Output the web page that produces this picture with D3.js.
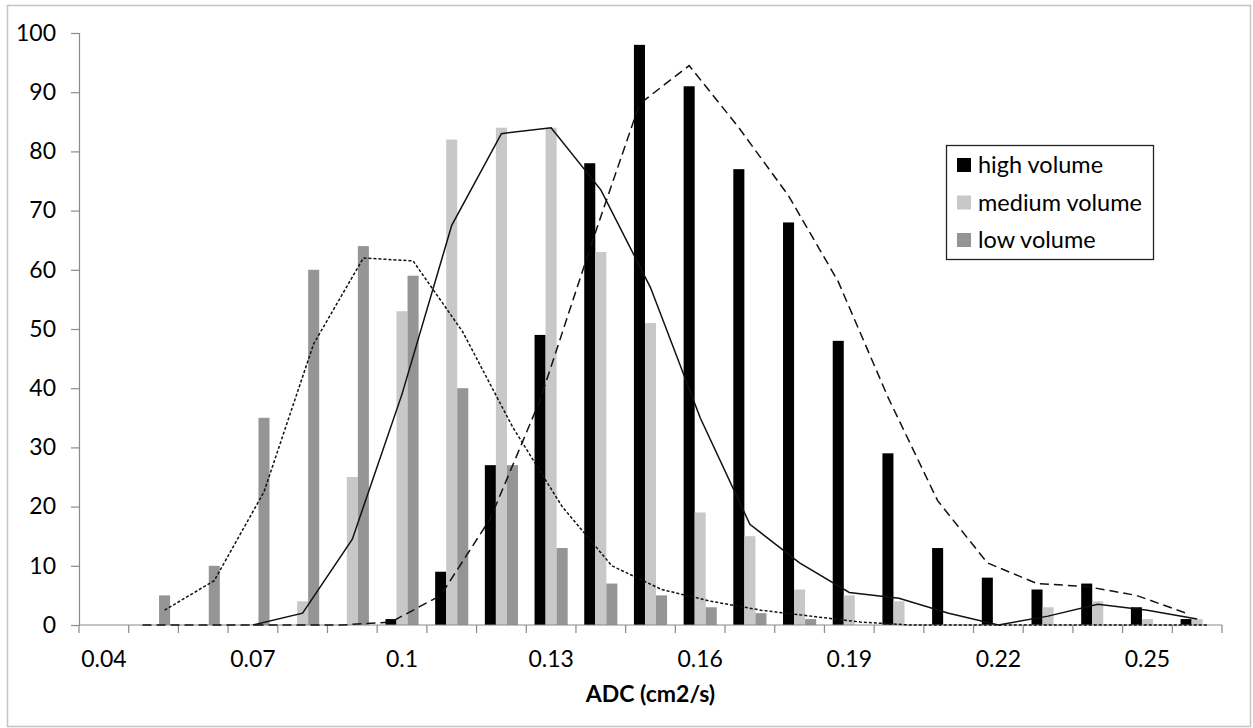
<!DOCTYPE html>
<html>
<head>
<meta charset="utf-8">
<script src="https://cdn.jsdelivr.net/npm/d3@7"></script>
<style>
  html, body { margin: 0; padding: 0; background: #fff; }
  svg { display: block; }
  text { font-family: Lato, "Open Sans", sans-serif; fill: #000; }
</style>
</head>
<body>
<svg id="chart" width="1253" height="728"></svg>
<script>
// ---- data ----
const categories = ["0.04","0.05","0.06","0.07","0.08","0.09","0.1","0.11","0.12","0.13","0.14","0.15","0.16","0.17","0.18","0.19","0.2","0.21","0.22","0.23","0.24","0.25","0.26"];
const tickLabels = ["0.04","0.07","0.1","0.13","0.16","0.19","0.22","0.25"];
const seriesNames = ["high volume","medium volume","low volume"];
const highVolume   = [0,0,0,0,0,0,1,9,27,49,78,98,91,77,68,48,29,13,8,6,7,3,1];
const mediumVolume = [0,0,0,0,4,25,53,82,84,84,63,51,19,15,6,5,4,0,0,3,4,1,1];
const lowVolume    = [0,5,10,35,60,64,59,40,27,13,7,5,3,2,1,0,0,0,0,0,0,0,0];
// trend lines (2-period moving average lines as drawn in the picture)
const highTrend    = [null,0,0,0,0,0,0.5,5,18,38,63.5,88,94.5,84,72.5,58,38.5,21,10.5,7,6.5,5,2];
const mediumTrend  = [null,null,null,0,2,14.5,39,67.5,83,84,73.5,57,35,17,10.5,5.5,4.5,2,0,1.5,3.5,2.5,1];
const lowTrend     = [null,2.5,7.5,22.5,47.5,62,61.5,49.5,33.5,20,10,6,4,2.5,1.5,0.5,0,0,0,0,0,0,0];
const yTicks = [0,10,20,30,40,50,60,70,80,90,100];
const xTitle = "ADC (cm2/s)";

const seriesColors = ["#000000","#c8c8c8","#959595"];
const trendDash = ["9,5", null, "3,2"];

// ---- layout ----
const svg = d3.select("#chart");
const pLeft = 79, pRight = 1222, pTop = 33, pBottom = 625;

svg.append("rect").attr("x", 7.5).attr("y", 5.5).attr("width", 1243).attr("height", 721)
  .attr("fill", "#fff").attr("stroke", "#c4c4c4").attr("stroke-width", 1.5);

const x = d3.scaleBand().domain(categories).range([pLeft, pRight]).paddingInner(0).paddingOuter(0);
const bw = x.bandwidth();
const barW = bw / 4.5;
const xs = d3.scaleBand().domain(seriesNames).range([(bw - 3 * barW) / 2, (bw + 3 * barW) / 2]);
const y = d3.scaleLinear().domain([0, 100]).range([pBottom, pTop]);

const data = [highVolume, mediumVolume, lowVolume];
const trends = [highTrend, mediumTrend, lowTrend];

// y axis
const yAxis = d3.axisLeft(y).tickValues(yTicks).tickSize(8).tickPadding(15);
const gy = svg.append("g").attr("transform", `translate(${pLeft},0)`).call(yAxis);
gy.select(".domain").attr("stroke", "#8a8a8a").attr("stroke-width", 1.2);
gy.selectAll(".tick line").attr("stroke", "#8a8a8a").attr("stroke-width", 1.2);
gy.selectAll(".tick text").attr("font-size", 23).attr("font-family", "Lato, sans-serif").attr("fill", "#000");

// bars
seriesNames.forEach((name, si) => {
  svg.append("g").selectAll("rect")
    .data(categories.map((c, i) => ({ c, v: data[si][i] })))
    .join("rect")
    .attr("x", d => x(d.c) + xs(name))
    .attr("y", d => y(d.v))
    .attr("width", xs.bandwidth())
    .attr("height", d => y(0) - y(d.v))
    .attr("fill", seriesColors[si]);
});

// x axis
const xAxis = d3.axisBottom(x).tickSize(0).tickPadding(0).tickFormat(d => tickLabels.includes(d) ? d : "");
const gx = svg.append("g").attr("transform", `translate(0,${pBottom})`).call(xAxis);
gx.select(".domain").remove();
gx.append("line").attr("x1", pLeft).attr("x2", pRight).attr("y1", 0).attr("y2", 0)
  .attr("stroke", "#8a8a8a").attr("stroke-width", 1.2);
const bounds = categories.map(c => x(c)).concat([pRight]);
gx.selectAll(".sep").data(bounds).join("line").attr("class", "sep")
  .attr("x1", d => d).attr("x2", d => d).attr("y1", 0).attr("y2", 8)
  .attr("stroke", "#8a8a8a").attr("stroke-width", 1.2);
gx.selectAll(".tick text").attr("font-size", 23).attr("font-family", "Lato, sans-serif")
  .attr("fill", "#000").attr("dy", 0).attr("y", 42);

// trend lines
trends.forEach((t, si) => {
  const line = d3.line()
    .defined(d => d.v !== null)
    .x(d => x(d.c) + xs(seriesNames[si]) + xs.bandwidth() / 2)
    .y(d => y(d.v));
  svg.append("path")
    .datum(categories.map((c, i) => ({ c, v: t[i] })))
    .attr("d", line)
    .attr("fill", "none")
    .attr("stroke", "#111")
    .attr("stroke-width", 1.5)
    .attr("stroke-dasharray", trendDash[si]);
});

// axis title
svg.append("text").attr("x", (pLeft + pRight) / 2).attr("y", 702)
  .attr("text-anchor", "middle").attr("font-size", 23).attr("font-weight", "bold")
  .text(xTitle);

// legend
const lg = svg.append("g");
lg.append("rect").attr("x", 946.5).attr("y", 145.5).attr("width", 207).attr("height", 114)
  .attr("fill", "#fff").attr("stroke", "#222").attr("stroke-width", 1.3);
seriesNames.forEach((name, si) => {
  const yy = 158 + si * 37.5;
  lg.append("rect").attr("x", 957).attr("y", yy).attr("width", 14).attr("height", 14).attr("fill", seriesColors[si]);
  lg.append("text").attr("x", 978).attr("y", yy + 15).attr("font-size", 23.5).text(name);
});
</script>
</body>
</html>
